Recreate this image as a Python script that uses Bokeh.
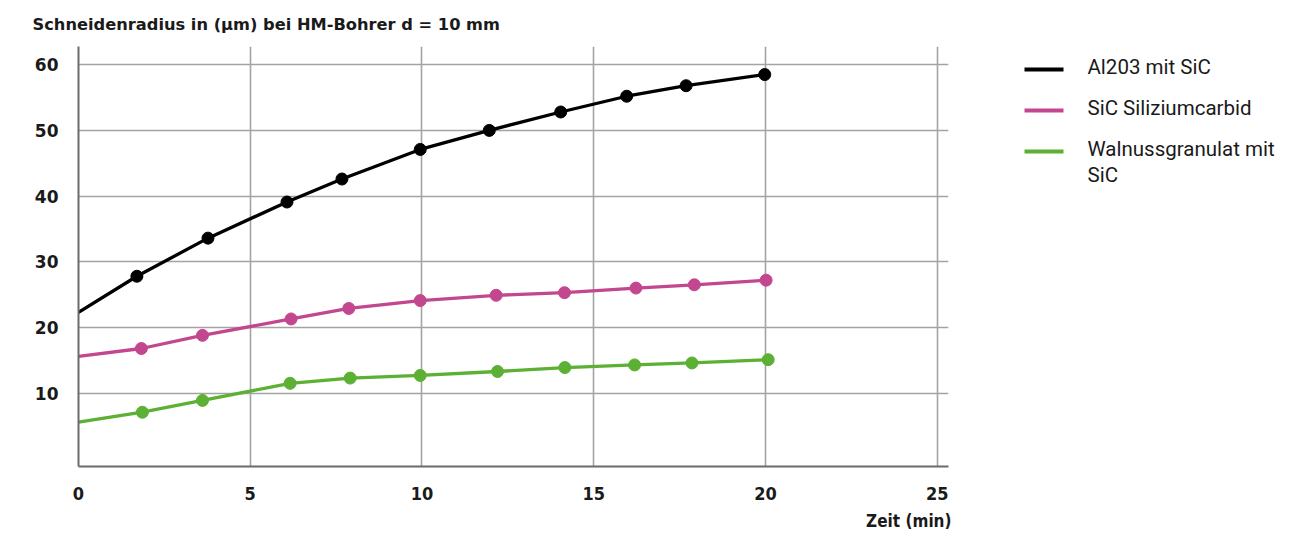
from bokeh.plotting import figure
from bokeh.layouts import row
from bokeh.models import Range1d, FixedTicker, Title
from bokeh.core.properties import value
from bokeh.embed import file_html
from bokeh.resources import INLINE

# ---------------- data ----------------
title_text = "Schneidenradius in (µm) bei HM-Bohrer d = 10 mm"
x_axis_title = "Zeit (min)"
x_ticks = [0, 5, 10, 15, 20, 25]
y_ticks = [10, 20, 30, 40, 50, 60]

series_names = ["Al203 mit SiC", "SiC Siliziumcarbid", "Walnussgranulat mit SiC"]

time_al = [0, 1.70, 3.77, 6.07, 7.67, 9.95, 11.96, 14.04, 15.96, 17.69, 19.98]
radius_al = [22.3, 27.8, 33.6, 39.1, 42.6, 47.1, 50.0, 52.8, 55.2, 56.8, 58.5]

time_sic = [0, 1.83, 3.61, 6.19, 7.87, 9.95, 12.16, 14.15, 16.23, 17.93, 20.02]
radius_sic = [15.6, 16.8, 18.8, 21.3, 22.9, 24.1, 24.9, 25.3, 26.0, 26.5, 27.2]

time_wal = [0, 1.86, 3.61, 6.16, 7.91, 9.95, 12.20, 14.16, 16.19, 17.86, 20.08]
radius_wal = [5.6, 7.1, 8.9, 11.5, 12.3, 12.7, 13.3, 13.9, 14.3, 14.6, 15.1]

colors = ["#000000", "#c3478f", "#5cb033"]

# ---------------- layout ----------------
W, H = 1310, 536
PW = 960                 # width of the chart figure
ML, MT = 78, 46          # frame left / top in page px
FR, FB = 948, 466        # frame right / bottom in page px
X0, X1 = 0, 25.33
Y0, Y1 = -1.16, 62.77
LINE_W = 3.3
TEXT_C = "#1a1a1a"

p = figure(width=PW, height=H, x_range=Range1d(X0, X1), y_range=Range1d(Y0, Y1),
           output_backend="svg", toolbar_location=None,
           min_border_left=ML, min_border_right=PW - FR, min_border_top=MT, min_border_bottom=H - FB,
           outline_line_color=None, background_fill_color="white", border_fill_color="white")

# title (above)
p.title.text = title_text
p.title.align = "left"
p.title.offset = 32 - ML
p.title.standoff = 25
p.title.text_font = "DejaVu Sans"
p.title.text_font_style = "bold"
p.title.text_font_size = "16.25px"
p.title.text_color = TEXT_C

# grid
p.xgrid.ticker = FixedTicker(ticks=x_ticks[1:])
p.ygrid.ticker = FixedTicker(ticks=y_ticks)
for g in (p.xgrid, p.ygrid):
    g.grid_line_color = "#a3a3a3"
    g.grid_line_width = 1.6

# axes
p.xaxis.ticker = FixedTicker(ticks=x_ticks)
p.yaxis.ticker = FixedTicker(ticks=y_ticks)
for ax in (p.xaxis, p.yaxis):
    ax.axis_line_color = "#6b6b6b"
    ax.axis_line_width = 2
    ax.major_tick_line_color = None
    ax.minor_tick_line_color = None
    ax.major_tick_out = 0
    ax.major_tick_in = 0
    ax.major_label_text_color = TEXT_C
    ax.major_label_text_font_style = "bold"

p.yaxis.major_label_text_font = "DejaVu Sans"
p.yaxis.major_label_text_font_size = "17px"
p.yaxis.major_label_standoff = 20

p.xaxis.major_label_text_font = "DejaVu Sans Condensed"
p.xaxis.major_label_text_font_size = "18px"
p.xaxis.major_label_standoff = 20

# x axis title (below, right aligned)
p.add_layout(Title(text=x_axis_title, align="right", offset=-3, standoff=12,
                   text_font="DejaVu Sans Condensed", text_font_style="bold",
                   text_font_size="17px", text_color=TEXT_C), "below")

# series
series = [(time_al, radius_al), (time_sic, radius_sic), (time_wal, radius_wal)]
for (xs, ys), c in zip(series, colors):
    p.line(xs, ys, line_color=c, line_width=LINE_W, line_join="round", line_cap="round")
    p.scatter(xs[1:], ys[1:], size=12, fill_color=c, line_color=c)

# ---------------- legend figure (page-pixel coordinates) ----------------
# its frame is aligned with the chart frame by the row layout (rows MT..FB)
LW = W - PW
lf = figure(width=LW, height=H, x_range=Range1d(PW, W), y_range=Range1d(FB, MT), title=None,
            output_backend="svg", toolbar_location=None,
            min_border_left=0, min_border_right=0, min_border_top=MT, min_border_bottom=H - FB,
            outline_line_color=None, x_axis_location=None, y_axis_location=None,
            background_fill_color="white", border_fill_color="white")
lf.xgrid.visible = False
lf.ygrid.visible = False

LEG_X, LEG_GLYPH_W, LEG_STANDOFF = 1024, 39, 24
LEG_Y, LEG_PITCH, TEXT_DY, WRAP_DY = 69, 41, -3, 26
n = len(series_names)
ys_leg = [LEG_Y + i * LEG_PITCH for i in range(n)]
lf.segment(x0=[LEG_X] * n, y0=ys_leg, x1=[LEG_X + LEG_GLYPH_W] * n, y1=ys_leg,
           line_color=colors, line_width=4)

text_x, text_y, text_s = [], [], []
for i, name in enumerate(series_names):
    lines = [name] if i < 2 else list(name.rsplit(" ", 1))
    for j, ln in enumerate(lines):
        text_x.append(LEG_X + LEG_GLYPH_W + LEG_STANDOFF)
        text_y.append(ys_leg[i] + TEXT_DY + j * WRAP_DY)
        text_s.append(ln)
lf.text(x=text_x, y=text_y, text=text_s, text_baseline="middle", text_align="left",
        text_font=value("Roboto"), text_font_size="20.5px", text_color=TEXT_C)

open("out.html", "w").write(file_html(row(p, lf), INLINE))
